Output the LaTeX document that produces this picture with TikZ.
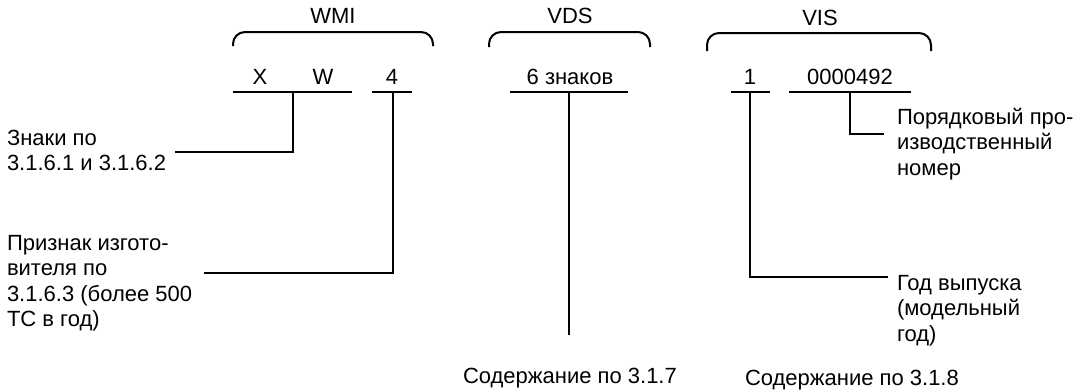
\documentclass[tikz,border=0pt]{standalone}
\usepackage{fontspec}
\setmainfont{Liberation Sans}
\begin{document}
\begin{tikzpicture}[x=1pt,y=-1pt,
  line width=2pt,
  every node/.style={inner sep=0pt, outer sep=0pt, font=\fontsize{22}{25.5}\selectfont},
  lbl/.style={anchor=base west, align=left},
  ctr/.style={anchor=base},
  brace/.style={rounded corners=12pt, line cap=butt},
  bar/.style={line cap=butt},
  conn/.style={line cap=butt, line join=miter}]
\useasboundingbox (0,0) rectangle (1088,391);
\fill[white] (0,0) rectangle (1088,391);

% group titles
\node[ctr] (wmi) at (333,23) {WMI};
\node[ctr] (vds) at (570,23) {VDS};
\node[ctr] (vis) at (820,25) {VIS};

% braces
\draw[brace] (233,46) -- (233,32) -- (433,32) -- (433,46);
\draw[brace] (489,47) -- (489,32) -- (650,32) -- (650,47);
\draw[brace] (707,51) -- (707,33) -- (931,33) -- (931,51);

% characters
\node[ctr] (cx) at (260,84) {X};
\node[ctr] (cw) at (323,84) {W};
\node[ctr] (c4) at (392,84) {4};
\node[ctr] (c6) at (570,84) {6 знаков};
\node[ctr] (c1) at (750,84) {1};
\node[ctr] (cnum) at (850,84) {0000492};

% underlines
\coordinate (xwL) at (233,92); \coordinate (xwR) at (352,92);
\coordinate (fL) at (372,92);  \coordinate (fR) at (412,92);
\coordinate (sL) at (510,92);  \coordinate (sR) at (628,92);
\coordinate (oL) at (731,92);  \coordinate (oR) at (770,92);
\coordinate (nL) at (789,92);  \coordinate (nR) at (911,92);
\draw[bar] (xwL) -- (xwR);
\draw[bar] (fL) -- (fR);
\draw[bar] (sL) -- (sR);
\draw[bar] (oL) -- (oR);
\draw[bar] (nL) -- (nR);

% connector start points
\coordinate (xwT) at (293,92);
\coordinate (fT) at (393,92);
\coordinate (sT) at (569,92);
\coordinate (oT) at (750,92);
\coordinate (nT) at (850,92);

% explanation texts (base = baseline of last line)
\node[lbl] (znaki) at (7,170.5) {Знаки по\\3.1.6.1 и 3.1.6.2};
\node[lbl] (priznak) at (7,326.5) {Признак изгото-\\вителя по\\3.1.6.3 (более 500\\ТС в год)};
\node[lbl] (soder7) at (463,383) {Содержание по 3.1.7};
\node[lbl] (soder8) at (745,385) {Содержание по 3.1.8};
\node[lbl] (god) at (897,341) {Год выпуска\\(модельный\\год)};
\node[lbl] (poryad) at (897,175) {Порядковый про-\\изводственный\\номер};

% connector ends
\coordinate (znakiE) at (175,152);
\coordinate (priznakE) at (204,273);
\coordinate (soder7E) at (569,335);
\coordinate (godE) at (888,277);
\coordinate (poryadE) at (884,134);

% connectors
\draw[conn] (xwT) |- (znakiE);
\draw[conn] (fT) |- (priznakE);
\draw[conn] (sT) -- (soder7E);
\draw[conn] (oT) |- (godE);
\draw[conn] (nT) |- (poryadE);
\end{tikzpicture}
\end{document}
